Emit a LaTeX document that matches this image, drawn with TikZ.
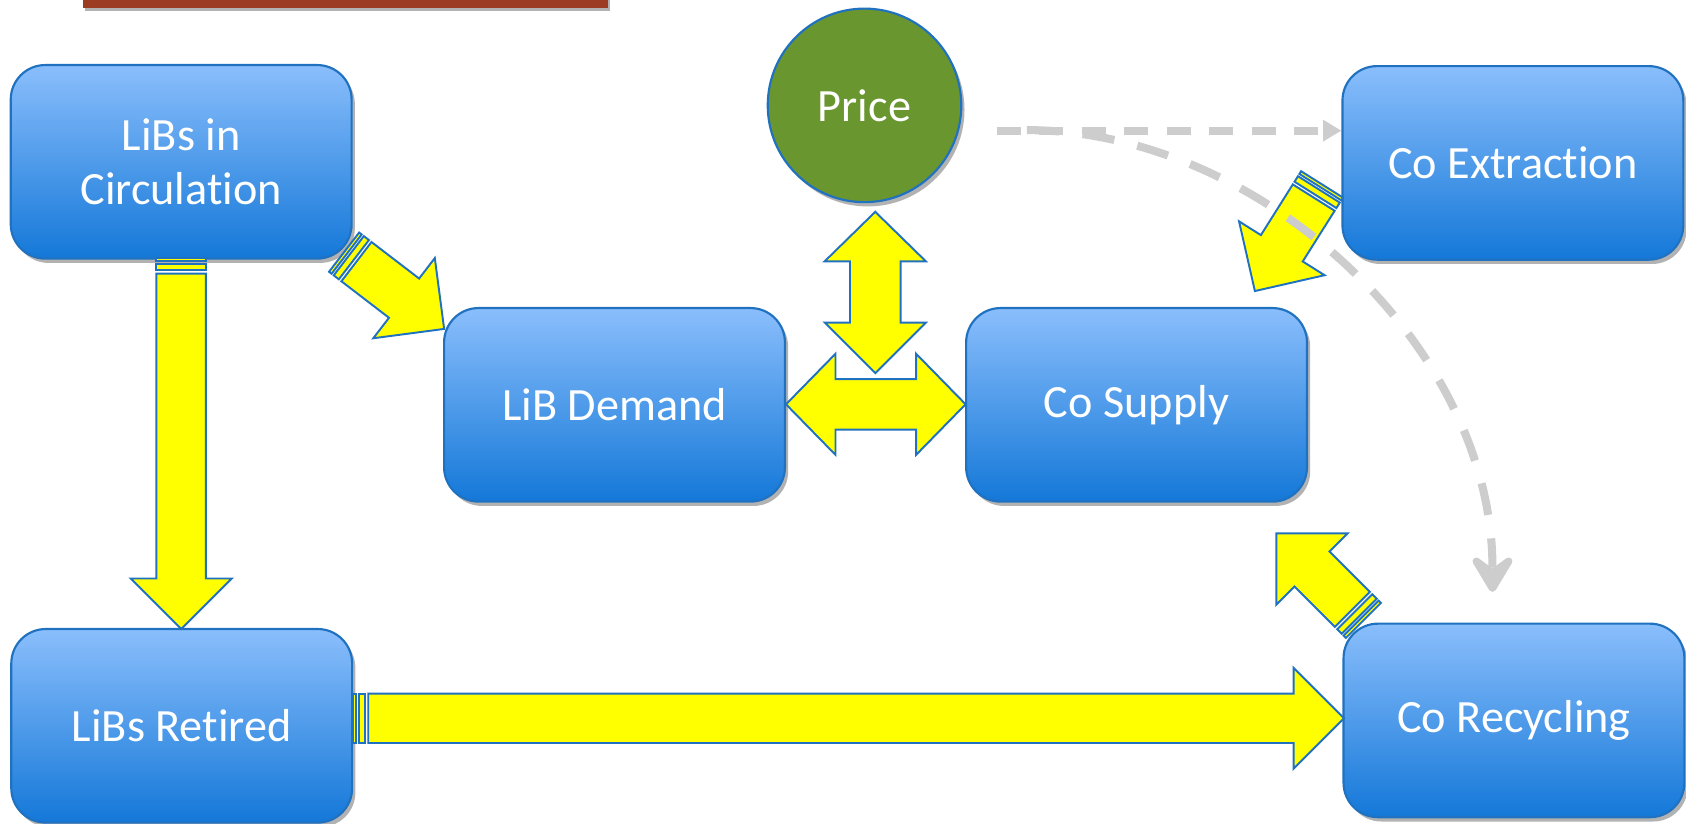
\documentclass[tikz,border=0pt]{standalone}
\usepackage{fontspec}
\setmainfont{Carlito}[Ligatures=NoCommon]
\usetikzlibrary{shadows,arrows.meta}
\definecolor{boxtop}{RGB}{138,190,252}
\definecolor{boxbot}{RGB}{20,120,216}
\definecolor{boxline}{RGB}{32,114,192}
\definecolor{arrowyellow}{RGB}{255,255,0}
\definecolor{pricegreen}{RGB}{106,150,48}
\definecolor{dashgray}{RGB}{205,205,205}
\definecolor{barbrown}{RGB}{155,60,35}
\tikzset{
  flowbox/.style={draw=boxline, line width=2pt, rounded corners=32pt,
    top color=boxtop, bottom color=boxbot, minimum width=317pt, minimum height=180pt,
    text=white, font=\fontsize{43}{51}\selectfont, align=center, inner sep=0pt,
    drop shadow={shadow xshift=3pt, shadow yshift=-4pt, opacity=0.3, fill=black}},
  pricenode/.style={circle, draw=boxline, line width=2pt, fill=pricegreen, minimum size=180pt,
    inner sep=0pt, text=white, font=\fontsize{43}{51}\selectfont,
    drop shadow={shadow xshift=3pt, shadow yshift=-4pt, opacity=0.3, fill=black}},
  yellowshape/.style={fill=arrowyellow, draw=boxline, line width=1.8pt, line join=miter},
  influence/.style={draw=dashgray, line width=7.5pt},
  chevron/.style={draw=dashgray, fill=dashgray, line width=7pt, line cap=round, line join=round},
}
% tail x, tail y, screen angle (clockwise), length
\newcommand{\blockarrow}[4]{%
  \begin{scope}[shift={(#1,#2)}, rotate=-#3]
    \path[yellowshape] (0,-23) rectangle (3,23);
    \path[yellowshape] (5.5,-23) rectangle (11.5,23);
    \path[yellowshape] (14.5,-23) -- ({#4-47},-23) -- ({#4-47},-47) -- (#4,0)
      -- ({#4-47},47) -- ({#4-47},23) -- (14.5,23) -- cycle;
  \end{scope}}
\begin{document}
\begin{tikzpicture}[x={(1pt,0)}, y={(0,-1pt)}]
\useasboundingbox (0,0) rectangle (1568,765.5);
% brown bar at top
\path[fill=barbrown, drop shadow={shadow xshift=2pt, shadow yshift=-3pt, opacity=0.3, fill=black}] (77,-20) rectangle (565,7);

% nodes
\node[flowbox] (circ) at (168.5,150.5) {LiBs in\\Circulation};
\node[flowbox] (demand) at (571.5,376.5) {LiB Demand};
\node[flowbox] (supply) at (1057,376.5) {Co Supply};
\node[flowbox] (extract) at (1407,151.5) {Co Extraction};
\node[flowbox] (retired) at (169,675) {LiBs Retired};
\node[flowbox] (recycle) at (1408,670) {Co Recycling};
\node[pricenode] (price) at (804,98) {Price};

% block arrows
\blockarrow{168.5}{240}{90}{345}
\blockarrow{320}{234.5}{37.5}{117.3}
\blockarrow{1229.5}{171.5}{122.2}{117.2}
\blockarrow{1268}{577}{225}{114.6}
\blockarrow{328}{668}{0}{922}

% double arrows
\path[yellowshape] (814,197) -- (861,243) -- (837.5,243) -- (837.5,300) -- (861,300)
  -- (814,347) -- (767,300) -- (790.5,300) -- (790.5,243) -- (767,243) -- cycle;
\path[yellowshape] (731,376) -- (777,329) -- (777,352.5) -- (852,352.5) -- (852,329)
  -- (898,376) -- (852,423) -- (852,399.5) -- (777,399.5) -- (777,423) -- cycle;

% dashed influences
\coordinate (p1) at (927,121.5);
\coordinate (p2) at (955,121);
\coordinate (e1) at (extract.west |- p1);
\coordinate (r0) at (1388,528);
\coordinate (r1) at (1388,547);
\coordinate (ra) at (1373,522);
\coordinate (rb) at (1403,522);
\coordinate (rc) at (1388,533);
\draw[influence, dash pattern=on 22.5pt off 17pt, -{Triangle[length=17pt,width=19pt]}] (p1) -- (e1);
\draw[influence, dash pattern=on 30pt off 22pt]
  (p2) .. controls (1170,121) and (1388,320) .. (r0);
\path[chevron] (ra) -- (r1) -- (rb) -- (rc) -- cycle;
\end{tikzpicture}
\end{document}
